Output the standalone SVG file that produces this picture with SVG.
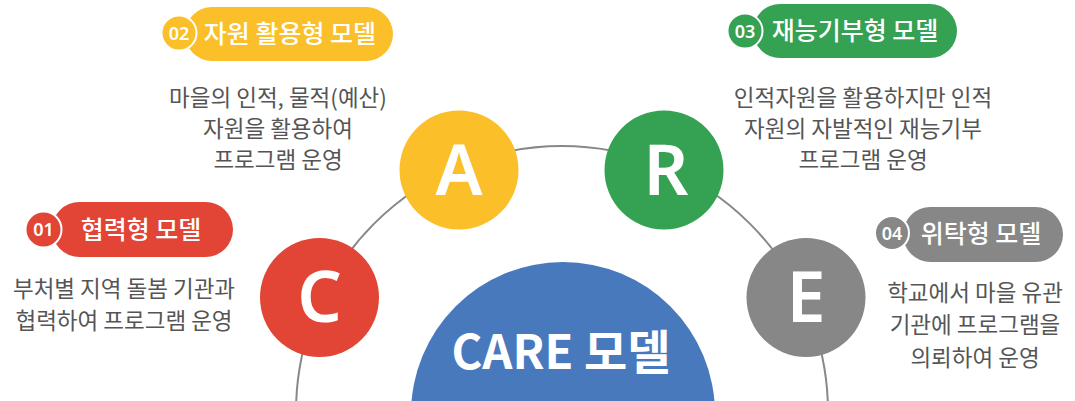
<svg xmlns="http://www.w3.org/2000/svg" width="1075" height="401" viewBox="0 0 1075 401">
<style>
.pill-t{font-family:"Noto Sans CJK KR","Noto Sans",sans-serif;font-size:25px;font-weight:500;fill:#fff;text-anchor:middle}
.num{font-family:"Noto Sans","Noto Sans CJK KR",sans-serif;font-size:18px;font-weight:600;fill:#fff;text-anchor:middle}
.numc{stroke:#fff;stroke-width:2}
.desc{font-family:"Noto Sans CJK KR",sans-serif;font-size:22.5px;fill:#555;text-anchor:middle}
.big{font-family:"Noto Sans","Open Sans",sans-serif;font-size:70px;font-weight:600;fill:#fff;text-anchor:middle}
.care{font-family:"Noto Sans CJK KR",sans-serif;font-size:47px;font-weight:700;fill:#fff;text-anchor:middle}
</style>
<g id="connectors">
<circle cx="562" cy="412" r="266" fill="none" stroke="#888" stroke-width="2"/>
</g>
<g id="care">
<circle cx="563" cy="414" r="152" fill="#4879BD"/>
<text class="care" x="561" y="369">CARE 모델</text>
</g>
<g id="node-c">
<circle cx="319.5" cy="297.5" r="59.5" fill="#E24535"/>
<text class="big" x="319.5" y="322">C</text>
</g>
<g id="node-a">
<circle cx="459" cy="170" r="59.5" fill="#FBBF2A"/>
<text class="big" x="459" y="195">A</text>
</g>
<g id="node-r">
<circle cx="664" cy="170" r="59.5" fill="#35A153"/>
<text class="big" x="666" y="195">R</text>
</g>
<g id="node-e">
<circle cx="806" cy="297.5" r="59.5" fill="#878787"/>
<text class="big" x="806" y="322">E</text>
</g>
<g id="label-01">
<rect x="52" y="202" width="181" height="55" rx="27.5" fill="#E24535"/>
<circle class="numc" cx="43.5" cy="229.5" r="18" fill="#E24535"/>
<text class="num" x="43.5" y="236">01</text>
<text class="pill-t" x="141" y="238.5">협력형 모델</text>
<text class="desc" x="124" y="297">부처별 지역 돌봄 기관과</text>
<text class="desc" x="124" y="329">협력하여 프로그램 운영</text>
</g>
<g id="label-02">
<rect x="185" y="7" width="208" height="54" rx="27" fill="#FBBF2A"/>
<circle class="numc" cx="179" cy="33" r="17.5" fill="#FBBF2A"/>
<text class="num" x="179" y="39.5">02</text>
<text class="pill-t" x="290" y="42.5">자원 활용형 모델</text>
<text class="desc" x="278" y="106">마을의 인적, 물적(예산)</text>
<text class="desc" x="278" y="137">자원을 활용하여</text>
<text class="desc" x="278" y="168">프로그램 운영</text>
</g>
<g id="label-03">
<rect x="753" y="4" width="204" height="54" rx="27" fill="#35A153"/>
<circle class="numc" cx="745" cy="31" r="17.5" fill="#35A153"/>
<text class="num" x="745" y="37.5">03</text>
<text class="pill-t" x="855" y="39.5">재능기부형 모델</text>
<text class="desc" x="863" y="106">인적자원을 활용하지만 인적</text>
<text class="desc" x="863" y="137">자원의 자발적인 재능기부</text>
<text class="desc" x="863" y="168">프로그램 운영</text>
</g>
<g id="label-04">
<rect x="903" y="207" width="160" height="55" rx="27.5" fill="#878787"/>
<circle class="numc" cx="892" cy="233" r="17" fill="#878787"/>
<text class="num" x="892" y="239.5">04</text>
<text class="pill-t" x="981" y="242.5">위탁형 모델</text>
<text class="desc" x="975" y="301">학교에서 마을 유관</text>
<text class="desc" x="975" y="333">기관에 프로그램을</text>
<text class="desc" x="975" y="366">의뢰하여 운영</text>
</g>
</svg>
